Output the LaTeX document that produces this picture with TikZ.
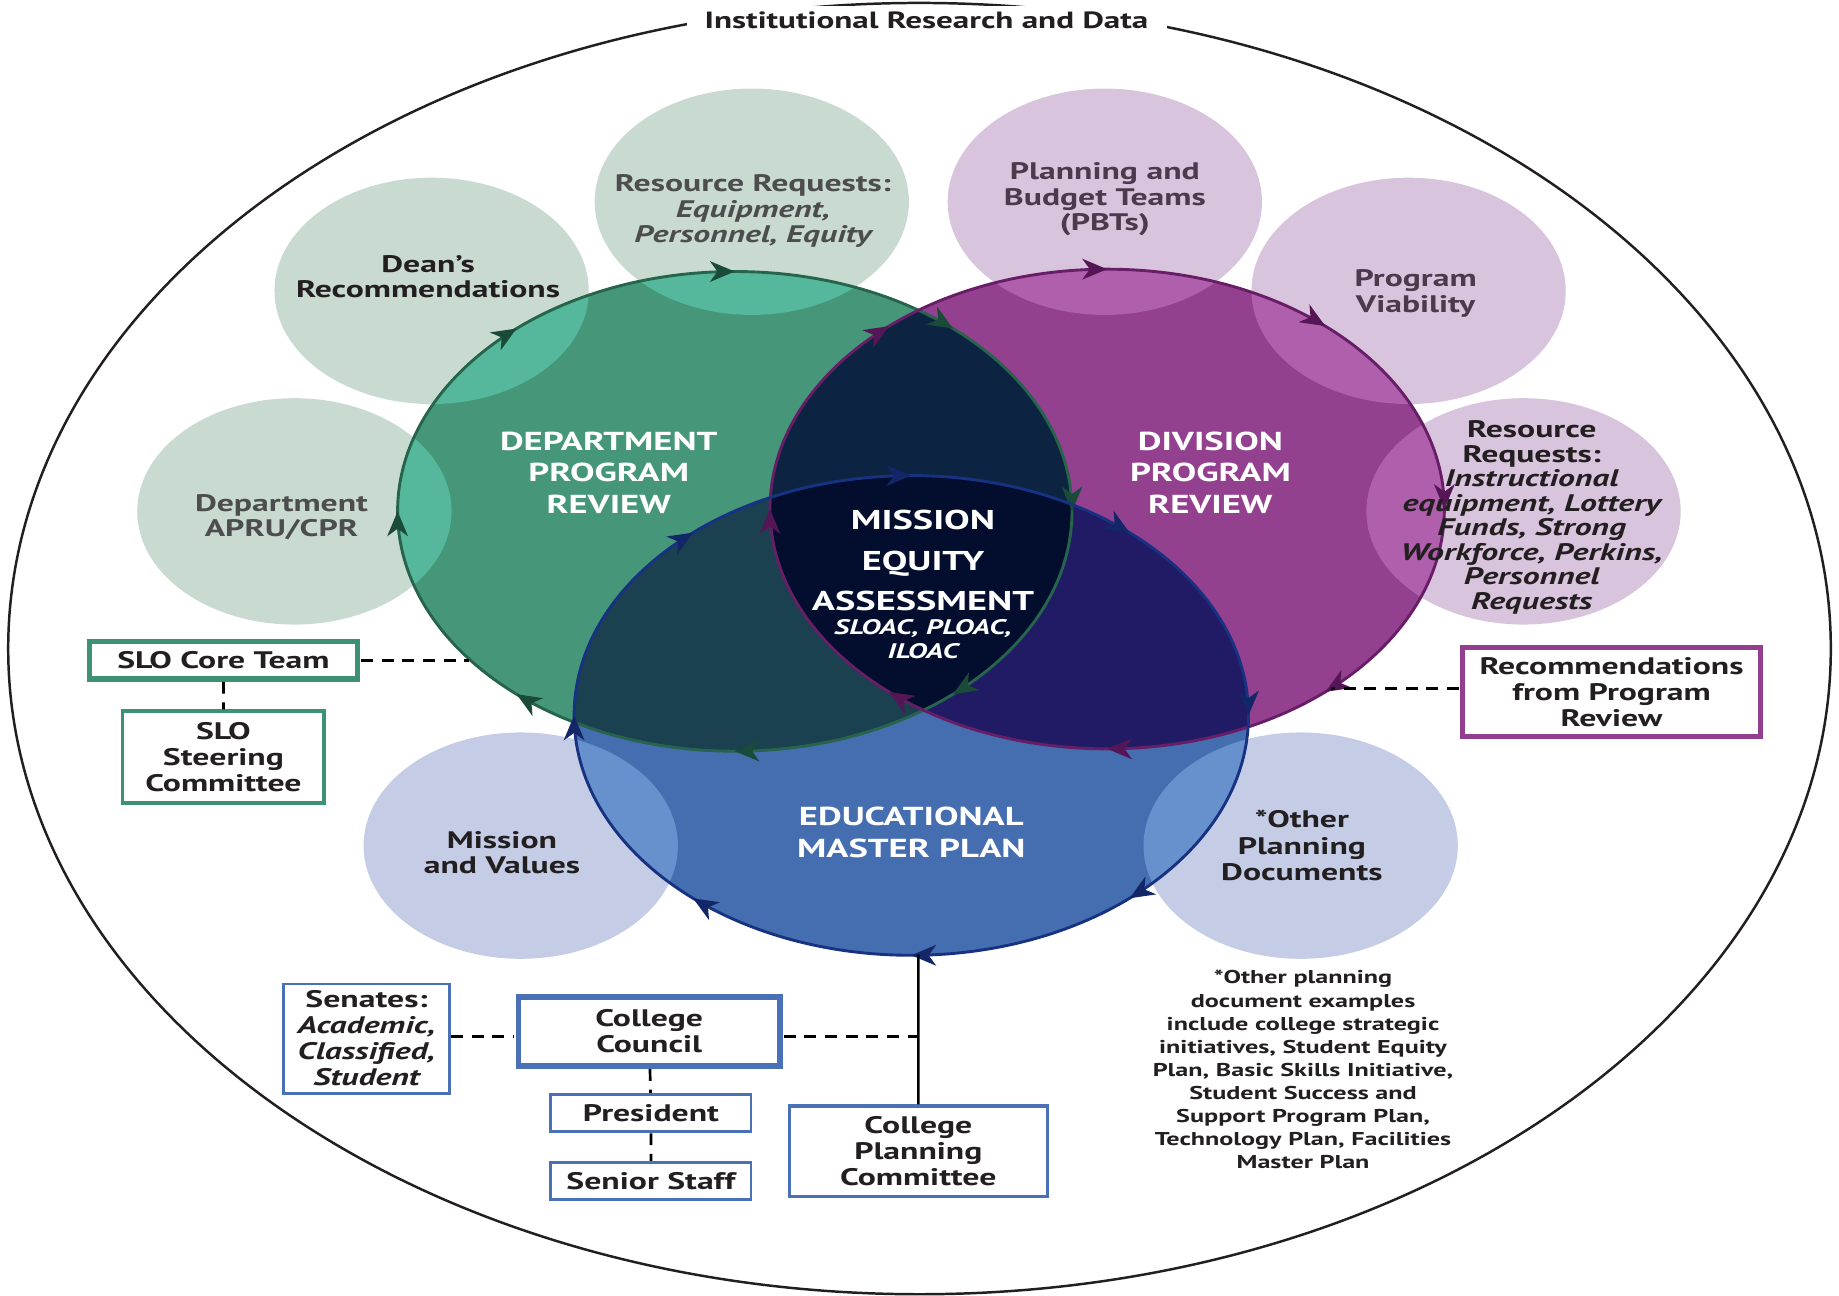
\documentclass[tikz,border=0pt]{standalone}
\usepackage{fontspec}
\setmainfont{PT Sans}
\usetikzlibrary{arrows.meta}
\usetikzlibrary{decorations.markings}
\usetikzlibrary{calc}

\definecolor{txtdark}{RGB}{35,31,32}
\definecolor{txtgray}{RGB}{77,77,77}
\definecolor{txtpurp}{RGB}{74,58,76}
\definecolor{lgreen}{RGB}{201,219,209}
\definecolor{lpurple}{RGB}{217,196,222}
\definecolor{lblue}{RGB}{197,205,230}
\definecolor{dprgreen}{RGB}{70,151,122}
\definecolor{dvrpurple}{RGB}{147,64,143}
\definecolor{empblue}{RGB}{69,110,177}
\definecolor{gmint}{RGB}{85,183,155}
\definecolor{porchid}{RGB}{176,95,172}
\definecolor{bsky}{RGB}{102,145,205}
\definecolor{gpnavy}{RGB}{12,36,66}
\definecolor{gbteal}{RGB}{27,64,80}
\definecolor{pbindigo}{RGB}{32,27,100}
\definecolor{gpbdark}{RGB}{3,13,45}
\definecolor{dprline}{RGB}{38,100,76}
\definecolor{dvrline}{RGB}{104,30,102}
\definecolor{empline}{RGB}{24,50,130}
\definecolor{dprarrow}{RGB}{26,74,56}
\definecolor{dvrarrow}{RGB}{84,22,84}
\definecolor{emparrow}{RGB}{18,38,104}
\definecolor{boxgreen}{RGB}{60,146,115}
\definecolor{boxpurple}{RGB}{146,63,143}
\definecolor{boxblue}{RGB}{74,113,181}

\def\brx{2.875}
\def\bry{2.045}
\def\srx{1.34}
\def\sry{0.965}

\tikzset{
  lbl/.style={align=center, xscale=1.41, inner sep=0pt, text=txtdark,
    font=\fontsize{5.8}{6.2}\selectfont\bfseries},
  caps/.style={lbl, text=white, font=\fontsize{6.3}{7.7}\selectfont\bfseries},
  orgbox/.style={draw=#1, align=center, xscale=1.41, inner sep=0pt, text=txtdark,
    font=\fontsize{5.8}{6.3}\selectfont\bfseries},
  link/.style={line width=0.65pt, dash pattern=on 2.9pt off 2.1pt},
  flow/.style={postaction={decorate}, decoration={markings,
    mark=between positions 0 and 0.9 step 0.125 with {\arrowreversed[#1]{Stealth[length=6pt, width=5pt, inset=1.8pt]}}}},
}

\begin{document}
\begin{tikzpicture}
\useasboundingbox (0,0) rectangle (15.68,-11.05);
%circle centres
\coordinate (dpr) at (6.265,-4.36);
\coordinate (dvr) at (9.44,-4.34);
\coordinate (emp) at (7.77,-6.10);
\coordinate (dean) at (3.68,-2.48);
\coordinate (rrg) at (6.41,-1.72);
\coordinate (apru) at (2.51,-4.36);
\coordinate (pbt) at (9.42,-1.72);
\coordinate (viab) at (12.01,-2.48);
\coordinate (rrp) at (12.99,-4.36);
\coordinate (mv) at (4.44,-7.21);
\coordinate (opd) at (11.09,-7.21);

%outer ellipse
\draw[line width=0.6pt, txtdark] (7.84,-5.53) ellipse [x radius=7.77, y radius=5.505];
\node[lbl, fill=white, inner xsep=0.11cm, inner ysep=0.05cm, font=\fontsize{5.7}{6}\selectfont\bfseries] (irdata) at (7.90,-0.17) {Institutional Research and Data};

%small circles
\foreach \c in {dean,rrg,apru} \fill[lgreen] (\c) ellipse [x radius=\srx, y radius=\sry];
\foreach \c in {pbt,viab,rrp} \fill[lpurple] (\c) ellipse [x radius=\srx, y radius=\sry];
\foreach \c in {mv,opd} \fill[lblue] (\c) ellipse [x radius=\srx, y radius=\sry];

%big circles
\fill[dprgreen] (dpr) ellipse [x radius=\brx, y radius=\bry];
\fill[dvrpurple] (dvr) ellipse [x radius=\brx, y radius=\bry];
\fill[empblue] (emp) ellipse [x radius=\brx, y radius=\bry];
%overlaps
\begin{scope}
  \clip (dvr) ellipse [x radius=\brx, y radius=\bry];
  \fill[pbindigo] (emp) ellipse [x radius=\brx, y radius=\bry];
\end{scope}
\begin{scope}
  \clip (dpr) ellipse [x radius=\brx, y radius=\bry];
  \fill[gpnavy] (dvr) ellipse [x radius=\brx, y radius=\bry];
  \fill[gbteal] (emp) ellipse [x radius=\brx, y radius=\bry];
  \clip (dvr) ellipse [x radius=\brx, y radius=\bry];
  \fill[gpbdark] (emp) ellipse [x radius=\brx, y radius=\bry];
\end{scope}
\foreach \c in {dean,rrg,apru} {
  \begin{scope}
    \clip (\c) ellipse [x radius=\srx, y radius=\sry];
    \fill[gmint] (dpr) ellipse [x radius=\brx, y radius=\bry];
  \end{scope}
}
\foreach \c in {pbt,viab,rrp} {
  \begin{scope}
    \clip (\c) ellipse [x radius=\srx, y radius=\sry];
    \fill[porchid] (dvr) ellipse [x radius=\brx, y radius=\bry];
  \end{scope}
}
\foreach \c in {mv,opd} {
  \begin{scope}
    \clip (\c) ellipse [x radius=\srx, y radius=\sry];
    \fill[bsky] (emp) ellipse [x radius=\brx, y radius=\bry];
  \end{scope}
}
%rims with arrows
\draw[dprline, line width=0.7pt, flow=dprarrow] (dpr) ellipse [x radius=\brx, y radius=\bry];
\draw[dvrline, line width=0.7pt, flow=dvrarrow] (dvr) ellipse [x radius=\brx, y radius=\bry];
\draw[empline, line width=0.7pt, flow=emparrow] (emp) ellipse [x radius=\brx, y radius=\bry];

%circle texts
\node[lbl] (deantxt) at (3.65,-2.36) {Dean’s\\Recommendations};
\node[lbl, text=txtgray] (rrgtxt) at (6.42,-1.80) {Resource Requests:\\{\itshape Equipment,}\\{\itshape Personnel, Equity}};
\node[lbl, text=txtgray] (aprutxt) at (2.40,-4.41) {Department\\APRU/CPR};
\node[lbl, text=txtpurp] (pbttxt) at (9.42,-1.70) {Planning and\\Budget Teams\\(PBTs)};
\node[lbl, text=txtpurp] (viabtxt) at (12.07,-2.50) {Program\\Viability};
\node[lbl, font=\fontsize{5.8}{5.95}\selectfont\bfseries] (rrptxt) at (13.06,-4.41) {Resource\\Requests:\\{\itshape Instructional}\\{\itshape equipment, Lottery}\\{\itshape Funds, Strong}\\{\itshape Workforce, Perkins,}\\{\itshape Personnel}\\{\itshape Requests}};
\node[lbl] (mvtxt) at (4.28,-7.27) {Mission\\and Values};
\node[lbl, font=\fontsize{5.8}{6.4}\selectfont\bfseries] (opdtxt) at (11.10,-7.21) {*Other\\Planning\\Documents};
\node[caps] (dprtxt) at (5.19,-4.03) {DEPARTMENT\\PROGRAM\\REVIEW};
\node[caps] (dvrtxt) at (10.32,-4.03) {DIVISION\\PROGRAM\\REVIEW};
\node[caps] (emptxt) at (7.77,-7.10) {EDUCATIONAL\\MASTER PLAN};
\node[caps, font=\fontsize{6.6}{9.8}\selectfont\bfseries] (mission) at (7.87,-4.78) {MISSION\\EQUITY\\ASSESSMENT};
\node[caps, font=\fontsize{5.1}{5.8}\selectfont\bfseries\itshape] (loac) at (7.87,-5.45) {SLOAC, PLOAC,\\ILOAC};

%footnote
\node[lbl, font=\fontsize{4.5}{5.6}\selectfont\bfseries] (note) at (11.11,-9.12) {*Other planning\\document examples\\include college strategic\\initiatives, Student Equity\\Plan, Basic Skills Initiative,\\Student Success and\\Support Program Plan,\\Technology Plan, Facilities\\Master Plan};

%boxes
\node[orgbox=boxgreen, line width=1.3pt, minimum width=1.62cm, minimum height=0.32cm] (slocore) at (1.905,-5.63) {SLO Core Team};
\node[orgbox=boxgreen, line width=0.9pt, minimum width=1.22cm, minimum height=0.78cm] (slosteer) at (1.905,-6.455) {SLO\\Steering\\Committee};
\node[orgbox=boxpurple, line width=1.3pt, minimum width=1.80cm, minimum height=0.76cm] (recpr) at (13.74,-5.90) {Recommendations\\from Program\\Review};
\node[orgbox=boxblue, line width=0.7pt, minimum width=1.0cm, minimum height=0.93cm] (senates) at (3.125,-8.855) {Senates:\\{\itshape Academic,}\\{\itshape Classified,}\\{\itshape Student}};
\node[orgbox=boxblue, line width=1.4pt, minimum width=1.58cm, minimum height=0.59cm] (council) at (5.535,-8.795) {College\\Council};
\node[orgbox=boxblue, line width=0.7pt, minimum width=1.21cm, minimum height=0.32cm] (president) at (5.55,-9.49) {President};
\node[orgbox=boxblue, line width=0.7pt, minimum width=1.21cm, minimum height=0.32cm] (staff) at (5.55,-10.07) {Senior Staff};
\node[orgbox=boxblue, line width=0.8pt, minimum width=1.56cm, minimum height=0.77cm] (cpc) at (7.83,-9.815) {College\\Planning\\Committee};

%connectors
\coordinate (dprend) at (4.00,-5.63);
\coordinate (dvrend) at (11.35,-5.87);
\coordinate (empbot) at (7.83,-8.14);
\coordinate (cjoin) at (7.83,-8.84);
\draw[link] (slocore) -- (dprend);
\draw[link] (slocore) -- (slosteer);
\draw[link] (recpr.west |- dvrend) -- (dvrend);
\draw[link] (senates.east |- cjoin) -- (council.west |- cjoin);
\draw[link] (council.east |- cjoin) -- (cjoin);
\draw[link] (council) -- (president);
\draw[link] (president) -- (staff);
\draw[line width=0.6pt] (empbot) -- (cpc);
\end{tikzpicture}
\end{document}
